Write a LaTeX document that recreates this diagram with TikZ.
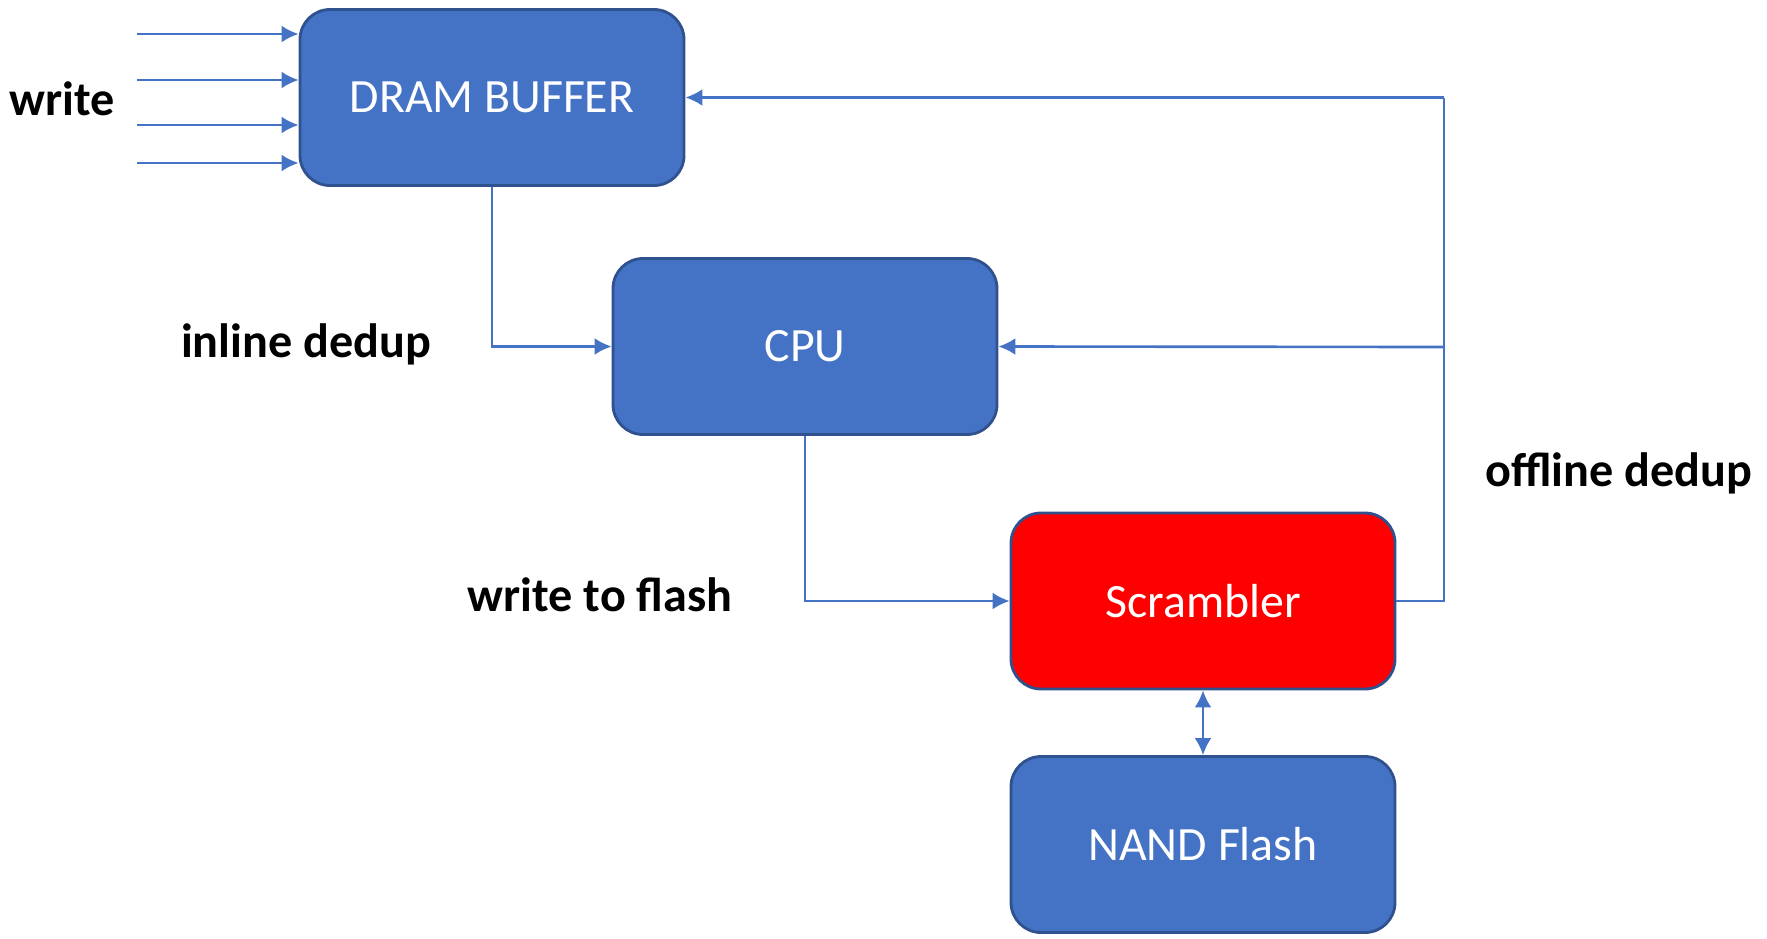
\documentclass[tikz,border=0pt]{standalone}
\usepackage{fontspec}
\setmainfont{Carlito}
\usetikzlibrary{arrows.meta}
\definecolor{boxblue}{HTML}{4472C4}
\definecolor{boxedge}{HTML}{2F528F}
\definecolor{scred}{HTML}{FF0000}

\begin{document}
\begin{tikzpicture}[
    block/.style={rectangle, rounded corners=0.3cm, draw=boxedge, line width=0.8pt, fill=boxblue,
      minimum width=3.84cm, minimum height=1.76cm, text=white, font=\fontsize{13.6}{16}\selectfont},
    wire/.style={draw=boxblue, line width=0.75pt},
    arr/.style={wire, -{Latex[length=1.7mm, width=1.7mm]}},
    lbl/.style={font=\bfseries\fontsize{13.7}{16}\selectfont}
  ]
    \useasboundingbox (0, 0) rectangle (17.67, -9.38);

    % 箱を置く
    \node[block] (dram) at (4.92, -0.975) {DRAM BUFFER};
    \node[block] (cpu) at (8.05, -3.465) {CPU};
    \node[block, fill=scred] (scr) at (12.03, -6.01) {Scrambler};
    \node[block] (nand) at (12.03, -8.445) {NAND Flash};

    % 点を決める
    \coordinate (w1) at (1.37, -0.34);
    \coordinate (w2) at (1.37, -0.80);
    \coordinate (w3) at (1.37, -1.25);
    \coordinate (w4) at (1.37, -1.63);
    \coordinate (busB) at (14.44, -6.01);
    \coordinate (busM) at (14.44, -3.47);
    \coordinate (busT) at (14.44, -0.975);

    % 線を引く
    \draw[arr] (w1) -- (w1 -| dram.west);
    \draw[arr] (w2) -- (w2 -| dram.west);
    \draw[arr] (w3) -- (w3 -| dram.west);
    \draw[arr] (w4) -- (w4 -| dram.west);
    \draw[arr] (dram.south) |- (cpu.west);
    \draw[arr] (cpu.south) |- (scr.west);
    \draw[wire] (scr.east) -- (busB) -- (busT);
    \draw[arr] (busT) -- (dram.east);
    \draw[arr] (busM) -- (cpu.east);
    \draw[wire, {Latex[length=1.7mm, width=1.7mm]}-{Latex[length=1.7mm, width=1.7mm]}] (scr.south) -- (nand.north);

    % 文字を入れる
    \node[lbl] (lwrite) at (0.62, -0.99) {write};
    \node[lbl] (linline) at (3.06, -3.44) {inline dedup};
    \node[lbl] (lflash) at (6.0, -5.95) {write to flash};
    \node[lbl] (loffline) at (16.19, -4.73) {offline dedup};

\end{tikzpicture}
\end{document}
